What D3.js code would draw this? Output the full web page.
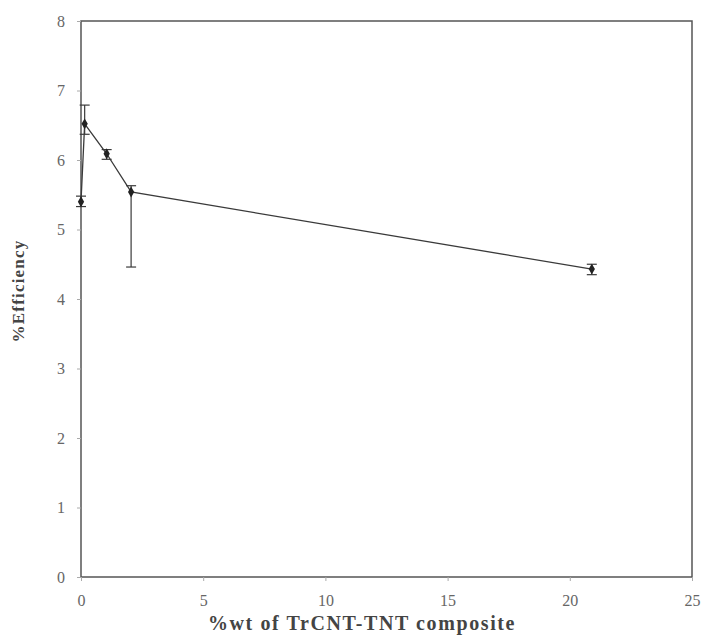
<!DOCTYPE html>
<html>
<head>
<meta charset="utf-8">
<script src="https://cdn.jsdelivr.net/npm/d3@7"></script>
<style>
  body { margin: 0; background: #fff; }
  text { font-family: "Liberation Serif", "Times New Roman", serif; }
</style>
</head>
<body>
<script>
const loadings = [0, 0.15, 1.05, 2.05, 20.9];
const efficiency = [5.40, 6.52, 6.09, 5.54, 4.43];
const errLow = [0.07, 0.15, 0.08, 1.08, 0.08];
const errHigh = [0.08, 0.27, 0.06, 0.09, 0.07];
const xTicks = [0, 5, 10, 15, 20, 25];
const yTicks = [0, 1, 2, 3, 4, 5, 6, 7, 8];

const wSvg = 706;
const hSvg = 638;
const padLeft = 81, padRight = 692, padTop = 21, padBottom = 577;
const ink = "#3a3a3a";
const serif = "'Liberation Serif', 'Times New Roman', serif";

let points = loadings.map((x, i) => ({
    x: x, y: efficiency[i], lo: efficiency[i] - errLow[i], hi: efficiency[i] + errHigh[i]
}));

let xScale = d3.scaleLinear([0, 25], [padLeft, padRight]);
let yScale = d3.scaleLinear([0, 8], [padBottom, padTop]);

let svg = d3.select("body")
    .append("svg")
    .attr("width", wSvg)
    .attr("height", hSvg);

// frame
svg.append("rect")
    .attr("x", padLeft)
    .attr("y", padTop)
    .attr("width", padRight - padLeft)
    .attr("height", padBottom - padTop)
    .attr("fill", "none")
    .attr("stroke", "#555")
    .attr("stroke-width", 1.5);

let yAxis = d3.axisLeft(yScale).tickValues(yTicks).tickSize(4).tickPadding(12).tickFormat(d3.format("d"));
svg.append("g")
    .attr("transform", `translate(${padLeft}, 0)`)
    .call(yAxis)
    .attr("font-family", serif);

let xAxis = d3.axisBottom(xScale).tickValues(xTicks).tickSize(4).tickPadding(14).tickFormat(d3.format("d"));
svg.append("g")
    .attr("transform", `translate(0, ${padBottom})`)
    .call(xAxis)
    .attr("font-family", serif);

svg.selectAll(".domain").remove();
svg.selectAll(".tick line").attr("stroke", "#aaa");
svg.selectAll(".tick text")
    .attr("fill", "#666")
    .style("font-size", "16px");

// line
const dMaker = d3.line()
    .x(d => xScale(d.x))
    .y(d => yScale(d.y));

svg.append("path")
    .attr("d", dMaker(points))
    .attr("fill", "none")
    .attr("stroke", ink)
    .attr("stroke-width", 1.3);

// error bars
let eb = svg.append("g")
    .selectAll("g")
    .data(points)
    .enter()
    .append("g")
    .attr("stroke", ink)
    .attr("stroke-width", 1.2);

eb.append("line")
    .attr("x1", d => xScale(d.x))
    .attr("x2", d => xScale(d.x))
    .attr("y1", d => yScale(d.lo))
    .attr("y2", d => yScale(d.hi));

eb.append("line")
    .attr("x1", d => xScale(d.x) - 5)
    .attr("x2", d => xScale(d.x) + 5)
    .attr("y1", d => yScale(d.lo))
    .attr("y2", d => yScale(d.lo));

eb.append("line")
    .attr("x1", d => xScale(d.x) - 5)
    .attr("x2", d => xScale(d.x) + 5)
    .attr("y1", d => yScale(d.hi))
    .attr("y2", d => yScale(d.hi));

// markers
svg.append("g")
    .selectAll("path")
    .data(points)
    .enter()
    .append("path")
    .attr("transform", d => `translate(${xScale(d.x)}, ${yScale(d.y)})`)
    .attr("d", d3.symbol(d3.symbolDiamond, 34))
    .attr("fill", "#222");

// axis titles
svg.append("text")
    .attr("x", 362)
    .attr("y", 630)
    .attr("text-anchor", "middle")
    .attr("fill", "#444")
    .style("font-size", "20px")
    .style("font-weight", "bold")
    .style("letter-spacing", "1.6px")
    .text("%wt of TrCNT-TNT composite");

svg.append("text")
    .attr("transform", "translate(24, 291) rotate(-90)")
    .attr("text-anchor", "middle")
    .attr("fill", "#444")
    .style("font-size", "17px")
    .style("font-weight", "bold")
    .style("letter-spacing", "1.2px")
    .text("%Efficiency");
</script>
</body>
</html>
